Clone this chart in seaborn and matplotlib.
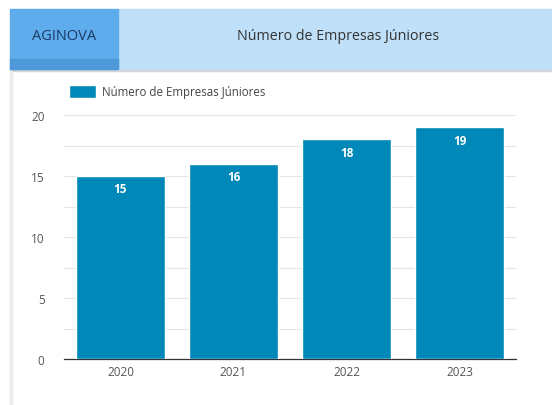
import pandas as pd
import matplotlib.pyplot as plt
import matplotlib.patches as mpatches
import seaborn as sns

# Chart data
anos = ['2020', '2021', '2022', '2023']
empresas = [15, 16, 18, 19]
serie = 'Número de Empresas Júniores'

df = pd.DataFrame({'Ano': anos, serie: empresas})

sns.set_style('white')
plt.rcParams['font.family'] = ['Open Sans', 'DejaVu Sans']

fig = plt.figure(figsize=(5.52, 4.06), dpi=100)
fig.patch.set_facecolor('white')

# Header bar with tab
W, H = 552, 406
def fx(px):
    return px / W
def fy(py):
    return 1 - py / H

fig.patches.append(mpatches.Rectangle((fx(10), fy(72)), fx(546), fy(70) - fy(72),
                                      transform=fig.transFigure, color='#d6d6d6', zorder=0))
fig.patches.append(mpatches.Rectangle((fx(118), fy(70)), fx(434), fy(10) - fy(70),
                                      transform=fig.transFigure, color='#bfe0f8', zorder=1))
fig.patches.append(mpatches.Rectangle((fx(10), fy(70)), fx(108), fy(10) - fy(70),
                                      transform=fig.transFigure, color='#5eacec', zorder=2))
fig.patches.append(mpatches.Rectangle((fx(10), fy(70)), fx(108), fy(60) - fy(70),
                                      transform=fig.transFigure, color='#4e9ad8', zorder=3))
# panel left border
fig.patches.append(mpatches.Rectangle((fx(10), 0), fx(2), fy(72),
                                      transform=fig.transFigure, color='#ececec', zorder=0))
fig.text(fx(64), fy(37), 'AGINOVA', ha='center', va='center', fontsize=10.5, color='#1c3a66')
fig.text(fx(338), fy(37), serie, ha='center', va='center', fontsize=10.3, color='#333333')

ax = fig.add_axes([fx(64), fy(360), fx(516) - fx(64), fy(116) - fy(360)])
sns.barplot(data=df, x='Ano', y=serie, color='#0088b8', width=0.79, saturation=1,
            ax=ax, label=serie, zorder=3)

ax.set_ylim(0, 20)
ax.set_yticks([0, 5, 10, 15, 20])
ax.set_yticks([2.5, 7.5, 12.5, 17.5], minor=True)
ax.grid(axis='y', which='both', color='#e4e4e4', linewidth=0.8, zorder=0)
ax.set_axisbelow(True)
for s in ['top', 'right', 'left']:
    ax.spines[s].set_visible(False)
ax.spines['bottom'].set_color('#333333')
ax.spines['bottom'].set_linewidth(0.9)
ax.tick_params(axis='both', length=0, labelsize=8.5, colors='#555555')
ax.tick_params(axis='y', pad=14)
ax.tick_params(axis='x', pad=4.5)
ax.set_xlabel('')
ax.set_ylabel('')

for cont in ax.containers:
    ax.bar_label(cont, labels=[str(v) for v in empresas], padding=-14,
                 color='white', fontsize=8.5, fontweight='bold')

leg = ax.legend(loc='lower left', bbox_to_anchor=(0.0, 1.05), frameon=False,
                fontsize=8.3, handlelength=2.4, handleheight=1.4, borderaxespad=0,
                handletextpad=0.5)
for t in leg.get_texts():
    t.set_color('#444444')

fig.savefig('out.png', dpi=100)
